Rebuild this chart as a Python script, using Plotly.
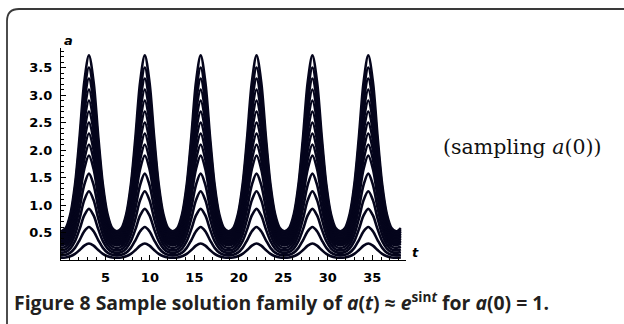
import plotly.graph_objects as go

# ---- data ----
# one period of the top (largest a(0)) curve, t sampled every ~0.52
period_t = [0.0, 0.524, 1.047, 1.571, 2.094, 2.618, 3.142, 3.665, 4.189, 4.712, 5.236, 5.760]
top_curve = [0.52, 0.58, 0.83, 1.37, 2.25, 3.24, 3.72, 3.24, 2.25, 1.37, 0.83, 0.58]
period_len = 6.283
n_periods = 6
# peak heights of the sampled family (chevrons at each peak)
peak_values = [0.30, 0.60, 0.93, 1.25, 1.57, 1.90, 2.10, 2.30, 2.50, 2.70,
               2.90, 3.10, 3.30, 3.50, 3.72]
x_ticks = [5, 10, 15, 20, 25, 30, 35]
y_ticks = [0.5, 1.0, 1.5, 2.0, 2.5, 3.0, 3.5]
y_tick_text = ["0.5", "1.0", "1.5", "2.0", "2.5", "3.0", "3.5"]

# ---- layout geometry (pixels) ----
W, H = 624, 324
ML, MT = 61, 48
PW, PH = 345, 212
MR, MB = W - ML - PW, H - MT - PH


def px(x):
    return (x - ML) / PW


def py(y):
    return (MT + PH - y) / PH


# build the time axis for the whole run
t_all = []
base_all = []
for p in range(n_periods):
    for tv, bv in zip(period_t, top_curve):
        t_all.append(tv + p * period_len)
        base_all.append(bv)
# closing points (start of the next period, data stops at ~38.2)
t_all.append(n_periods * period_len)
base_all.append(top_curve[0])
t_all.append(n_periods * period_len + period_t[1])
base_all.append(top_curve[1])

peak_top = max(top_curve)

fig = go.Figure()
for pk in peak_values:
    scale = pk / peak_top
    fig.add_trace(go.Scatter(
        x=t_all, y=[b * scale for b in base_all],
        mode="lines", line=dict(color="#05051c", width=2.6, shape="spline", smoothing=0.9),
        hoverinfo="skip", showlegend=False))

tick_font = dict(family="DejaVu Sans", size=13, color="#000000", weight="bold")

fig.update_layout(
    width=W, height=H,
    margin=dict(l=ML, r=MR, t=MT, b=MB),
    paper_bgcolor="white", plot_bgcolor="white",
    xaxis=dict(range=[0, 38.8], showgrid=False, zeroline=False,
               showline=True, linecolor="#000000", linewidth=1.2,
               tickvals=x_ticks, ticks="inside", ticklen=5, tickcolor="#000000",
               tickfont=tick_font, ticklabelstandoff=5,
               minor=dict(dtick=1, tick0=0, ticks="inside", ticklen=3, tickcolor="#000000")),
    yaxis=dict(range=[0, 3.855], showgrid=False, zeroline=False,
               showline=True, linecolor="#000000", linewidth=1.2,
               tickvals=y_ticks, ticktext=y_tick_text, ticks="inside", ticklen=5,
               tickcolor="#000000", tickfont=tick_font, ticklabelstandoff=5,
               minor=dict(dtick=0.1, tick0=0, ticks="inside", ticklen=3, tickcolor="#000000")),
)

# rounded frame (open to the right and bottom)
r = 12
x0, y0 = 7, 9
path = (f"M {px(x0)},{py(H + 20)} L {px(x0)},{py(y0 + r)} "
        f"Q {px(x0)},{py(y0)} {px(x0 + r)},{py(y0)} L {px(W + 20)},{py(y0)}")
fig.add_shape(type="path", path=path, xref="paper", yref="paper",
              line=dict(color="#3a3a3a", width=1.8))

# axis labels
fig.add_annotation(x=px(62), y=py(31), xref="paper", yref="paper",
                   text="<b><i>a</i></b>", showarrow=False,
                   font=dict(family="DejaVu Sans", size=13, color="#000000"))
fig.add_annotation(x=px(421), y=py(262), xref="paper", yref="paper",
                   text="<b><i>t</i></b>", showarrow=False,
                   font=dict(family="DejaVu Sans", size=13, color="#000000"))

# side note
fig.add_annotation(x=px(441), y=py(147), xref="paper", yref="paper",
                   xanchor="left", yanchor="middle",
                   text="(sampling <i>a</i>(0))", showarrow=False,
                   font=dict(family="DejaVu Serif", size=20.5, color="#111111"))

# caption
fig.add_annotation(x=px(12), y=py(301), xref="paper", yref="paper",
                   xanchor="left", yanchor="middle",
                   text="<b>Figure 8 Sample solution family of <i>a</i>(<i>t</i>) \u2248 "
                        "<i>e</i><sup>sin<i>t</i></sup> for <i>a</i>(0) = 1.</b>",
                   showarrow=False,
                   font=dict(family="Open Sans", size=19.4, color="#231f20"))

fig.write_html("out.html",
               config={"displayModeBar": False},
               post_script="document.body.style.margin='0';document.body.style.padding='0';")
